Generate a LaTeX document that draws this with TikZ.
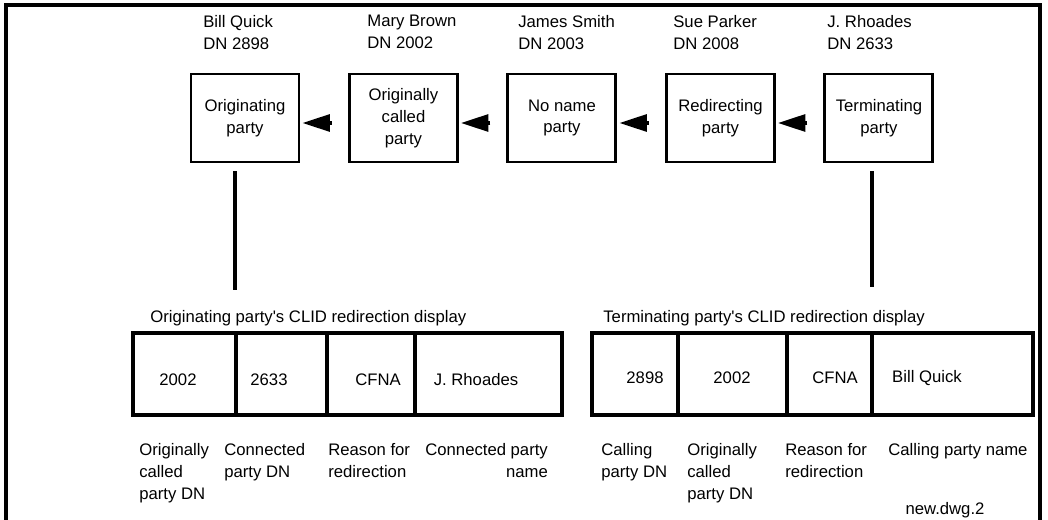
\documentclass[tikz,border=0pt]{standalone}
\usepackage{fontspec}
\setmainfont{Liberation Sans}[Ligatures=TeXOff]
\usepackage{tikz}
\usetikzlibrary{arrows.meta,calc,positioning}

\begin{document}
\begin{tikzpicture}[node distance=0.95cm,
  font=\fontsize{9.5}{12.5}\selectfont,
  pb/.style={draw,line width=1.7pt,align=center,minimum width=2.16cm,minimum height=1.76cm,inner sep=1pt},
  who/.style={anchor=north west,align=left,inner sep=0pt},
  lbl/.style={anchor=north west,align=left,inner sep=0pt},
  ttl/.style={anchor=base west,inner sep=0pt},
  val/.style={inner sep=0pt},
  disp/.style={draw,line width=1.9pt,minimum height=1.64cm,inner sep=0pt},
  sig/.style={-{Triangle[length=0.55cm,width=0.34cm]},line width=1.8pt,shorten <=0.32cm,shorten >=0.04cm},
  tie/.style={line width=1.8pt,shorten <=0.16cm}]
  \useasboundingbox (0,0) rectangle (20.96,-10.40);
  \draw[line width=2pt] (0.12,-10.6) |- (20.80,-0.10) -- (20.80,-10.6);
  \node[pb] (b1) at (4.90,-2.36) {Originating\\party};
  \node[pb,right=of b1] (b2) {Originally\\called\\party};
  \node[pb,right=of b2] (b3) {No name\\party};
  \node[pb,right=of b3] (b4) {Redirecting\\party};
  \node[pb,right=of b4] (b5) {Terminating\\party};
  \foreach \a/\b in {b2/b1,b3/b2,b4/b3,b5/b4} \draw[sig] ([yshift=-0.1cm]\a.west) -- ([yshift=-0.1cm]\b.east);
  \foreach \x/\t [count=\i] in {4.06/{Bill Quick\\DN 2898},7.34/{Mary Brown\\DN 2002},
      10.36/{James Smith\\DN 2003},13.46/{Sue Parker\\DN 2008},16.54/{J. Rhoades\\DN 2633}}
    \node[who] (n\i) at (\x,-0.30) {\t};
  \coordinate (d1) at (4.70,-5.80);
  \coordinate (d2) at (17.44,-5.74);
  \draw[tie] (d1 |- b1.south) -- (d1);
  \draw[tie] (d2 |- b5.south) -- (d2);
  \node[ttl] (ot) at (3.00,-6.44) {Originating party's CLID redirection display};
  \node[disp,minimum width=8.58cm] (od) at (6.95,-7.48) {};
  \foreach \x in {4.72,6.54,8.30} \draw[line width=1.9pt] (\x,0 |- od.north) -- (\x,0 |- od.south);
  \node[val] (o1) at (3.56,-7.60) {2002};
  \node[val] (o2) at (5.38,-7.60) {2633};
  \node[val] (o3) at (7.56,-7.60) {CFNA};
  \node[val] (o4) at (9.52,-7.60) {J. Rhoades};
  \node[lbl] (p1) at (2.78,-8.86) {Originally\\called\\party DN};
  \node[lbl] (p2) at (4.48,-8.86) {Connected\\party DN};
  \node[lbl] (p3) at (6.56,-8.86) {Reason for\\redirection};
  \node[lbl,align=right] (p4) at (8.50,-8.86) {Connected party\\name};
  \node[ttl] (tt) at (12.06,-6.44) {Terminating party's CLID redirection display};
  \node[disp,minimum width=8.82cm] (td) at (16.25,-7.48) {};
  \foreach \x in {13.56,15.74,17.44} \draw[line width=1.9pt] (\x,0 |- td.north) -- (\x,0 |- td.south);
  \node[val] (t1) at (12.90,-7.56) {2898};
  \node[val] (t2) at (14.64,-7.56) {2002};
  \node[val] (t3) at (16.70,-7.56) {CFNA};
  \node[val] (t4) at (18.54,-7.56) {Bill Quick};
  \node[lbl] (q1) at (12.02,-8.86) {Calling\\party DN};
  \node[lbl] (q2) at (13.74,-8.86) {Originally\\called\\party DN};
  \node[lbl] (q3) at (15.70,-8.86) {Reason for\\redirection};
  \node[lbl] (q4) at (17.76,-8.86) {Calling party name};
  \node[val] (dwg) at (18.90,-10.20) {new.dwg.2};
\end{tikzpicture}
\end{document}
